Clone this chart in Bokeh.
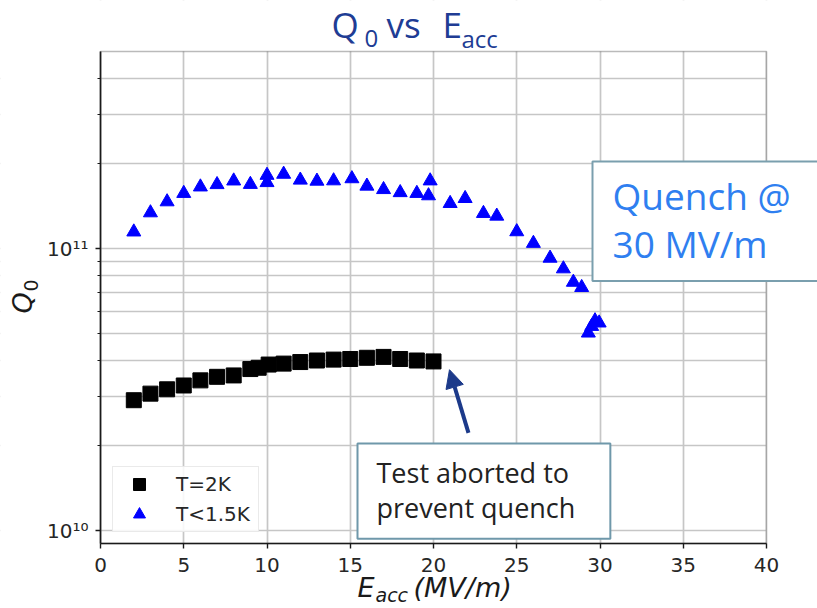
import math
from bokeh.plotting import figure
from bokeh.models import (Label, Legend, LegendItem, FixedTicker, Arrow, NormalHead,
                          BoxAnnotation, Range1d)
from bokeh.embed import file_html
from bokeh.resources import INLINE

# ---- data ----
E_2K = [2, 3, 4, 5, 6, 7, 8, 9, 9.5, 10.1, 11, 12, 13, 14, 15, 16, 17, 18, 19, 20]
Q_2K = [2.90e10, 3.06e10, 3.17e10, 3.27e10, 3.41e10, 3.51e10, 3.55e10, 3.74e10, 3.78e10,
        3.88e10, 3.91e10, 3.96e10, 4.01e10, 4.04e10, 4.06e10, 4.10e10, 4.13e10, 4.06e10,
        4.01e10, 3.98e10]

E_15K = [2, 3, 4, 5, 6, 7, 8, 9, 10, 10, 11, 12, 13, 14, 15.1, 16, 17, 18, 19, 19.7, 19.8,
         21, 21.9, 23, 23.8, 25, 26, 27, 27.8, 28.4, 28.9, 29.3, 29.5, 29.7, 29.95]
Q_15K = [1.146e11, 1.34e11, 1.466e11, 1.57e11, 1.655e11, 1.687e11, 1.738e11, 1.69e11,
         1.82e11, 1.715e11, 1.836e11, 1.75e11, 1.735e11, 1.74e11, 1.77e11, 1.666e11,
         1.62e11, 1.58e11, 1.57e11, 1.54e11, 1.739e11, 1.446e11, 1.506e11, 1.333e11,
         1.304e11, 1.148e11, 1.044e11, 9.25e10, 8.48e10, 7.6e10, 7.28e10, 5.02e10,
         5.3e10, 5.55e10, 5.45e10]

series_labels = ["T=2K", "T<1.5K"]
x_ticks = [0, 5, 10, 15, 20, 25, 30, 35, 40]
y_major = [1e10, 1e11]
y_major_labels = ["10\u00b9\u2070", "10\u00b9\u00b9"]
y_minor = [2e10, 3e10, 4e10, 5e10, 6e10, 7e10, 8e10, 9e10, 2e11, 3e11, 4e11]
x_limits = (0, 40)
y_limits = (9e9, 5e11)
arrow_tip = (20.96, 3.72e10)
arrow_tail = (22.1, 2.22e10)

# ---- layout (pixels) ----
W, H = 817, 608
PX_L, PX_R, PX_T, PX_B = 100, 766, 51, 543

sx = (PX_R - PX_L) / (x_limits[1] - x_limits[0])
xr = Range1d(x_limits[0] - PX_L / sx, x_limits[1] + (W - PX_R) / sx)
ly0, ly1 = math.log10(y_limits[0]), math.log10(y_limits[1])
sy = (PX_B - PX_T) / (ly1 - ly0)
yr = Range1d(10 ** (ly0 - (H - PX_B) / sy), 10 ** (ly1 + PX_T / sy))

p = figure(width=W, height=H, x_range=xr, y_range=yr, y_axis_type="log",
           output_backend="svg", toolbar_location=None,
           min_border_left=0, min_border_right=0, min_border_top=0, min_border_bottom=0)
p.background_fill_color = "white"
p.border_fill_color = "white"
p.outline_line_color = None

# axes, placed on the plot box edges
xa, ya = p.xaxis[0], p.yaxis[0]
xa.fixed_location = y_limits[0]
ya.fixed_location = x_limits[0]
xa.bounds = x_limits
ya.bounds = y_limits
xa.ticker = FixedTicker(ticks=x_ticks)
ya.ticker = FixedTicker(ticks=y_major, minor_ticks=y_minor)
ya.major_label_overrides = {t: s for t, s in zip(y_major, y_major_labels)}
for ax in (xa, ya):
    ax.axis_line_color = "#1a1a1a"
    ax.axis_line_width = 1.6
    ax.major_tick_line_color = "#1a1a1a"
    ax.major_tick_line_width = 1.4
    ax.major_tick_out = 5
    ax.major_tick_in = 0
    ax.minor_tick_line_color = "#1a1a1a"
    ax.minor_tick_line_width = 1.2
    ax.minor_tick_out = 3
    ax.minor_tick_in = 0
    ax.major_label_text_font = "DejaVu Sans"
    ax.major_label_text_font_size = "20px"
    ax.major_label_text_color = "#262626"
xa.minor_tick_line_color = None
xa.major_label_standoff = 9
ya.major_label_standoff = 7

p.xgrid.ticker = FixedTicker(ticks=x_ticks)
p.grid.grid_line_color = "#c6c6c6"
p.grid.grid_line_width = 1.7
p.ygrid.minor_grid_line_color = "#c6c6c6"
p.ygrid.minor_grid_line_width = 1.7

# white masks outside the plot box (hide grid lines there)
for kw in (dict(right=x_limits[0]), dict(left=x_limits[1]),
           dict(bottom=y_limits[1]), dict(top=y_limits[0])):
    p.add_layout(BoxAnnotation(fill_color="white", fill_alpha=1.0, line_color=None,
                               level="underlay", **kw))

# data
r2 = p.scatter(E_2K, Q_2K, marker="square", size=15, fill_color="black", line_color="black")
r15 = p.scatter(E_15K, Q_15K, marker="triangle", size=14, fill_color="#0000ff", line_color="#0000ff")

# plot box spines
p.add_layout(BoxAnnotation(left=x_limits[0], right=x_limits[1], bottom=y_limits[0], top=y_limits[1],
                           fill_color=None, fill_alpha=0, line_color="#1a1a1a", line_width=1.6))

legend = Legend(items=[LegendItem(label=series_labels[0], renderers=[r2]),
                       LegendItem(label=series_labels[1], renderers=[r15])],
                location=(112, H - 532), padding=2, spacing=0, glyph_width=48, glyph_height=30,
                label_height=30, label_width=80, label_standoff=13, margin=0,
                label_text_font="DejaVu Sans", label_text_font_size="20px",
                label_text_color="#262626",
                border_line_color="#d6d6d6", border_line_width=1.5,
                background_fill_color="white", background_fill_alpha=0.85)
p.add_layout(legend)

# arrow
p.add_layout(Arrow(x_start=arrow_tail[0], y_start=arrow_tail[1], x_end=arrow_tip[0], y_end=arrow_tip[1],
                   line_color="#1c3a8a", line_width=4,
                   end=NormalHead(size=18, fill_color="#1c3a8a", line_color="#1c3a8a")))

# annotation boxes
p.add_layout(Label(x=357, y=H - 443, x_units="screen", y_units="screen",
                   text="Test aborted to\nprevent quench", text_font="Open Sans",
                   text_font_size="27px", text_color="#222222", text_line_height=0.95,
                   text_align="left", text_baseline="top",
                   padding=dict(left=19, right=35, top=10, bottom=13),
                   background_fill_color="white", border_line_color="#6f98aa",
                   border_line_width=2))
p.add_layout(Label(x=592, y=H - 161, x_units="screen", y_units="screen",
                   text="Quench @\n30 MV/m", text_font="Open Sans",
                   text_font_size="37px", text_color="#2f7ff0", text_line_height=0.95,
                   text_align="left", text_baseline="top",
                   padding=dict(left=20, right=40, top=8, bottom=12),
                   background_fill_color="white", border_line_color="#7a9fae",
                   border_line_width=2))

SHIFT = 0.39  # measured offset of the rendered baseline, in em

def add_text(txt, x, y, size, font, color, italic=False, rotated=False):
    s = SHIFT * size
    if rotated:
        x, angle = x - s, math.pi / 2
    else:
        y, angle = y - s, 0.0
    p.add_layout(Label(x=x, y=H - y, x_units="screen", y_units="screen", text=txt,
                       text_font=font, text_font_size=f"{size}px", text_color=color,
                       text_font_style="italic" if italic else "normal",
                       text_align="left", text_baseline="alphabetic", angle=angle))

# title (x, baseline y in pixels from top)
title_color = "#203c94"
add_text("Q", 331, 38, 35, "Open Sans", title_color)
add_text("0", 364, 47, 24, "Open Sans", title_color)
add_text("vs", 386, 38, 35, "Open Sans", title_color)
add_text("E", 442, 38, 35, "Open Sans", title_color)
add_text("acc", 461, 47, 24, "Open Sans", title_color)

# x axis label
add_text("E", 357, 598, 27, "DejaVu Sans", "#1a1a1a", italic=True)
add_text("acc", 375, 602, 19, "DejaVu Sans", "#1a1a1a", italic=True)
add_text("(MV/m)", 413, 598, 27, "DejaVu Sans", "#1a1a1a", italic=True)

# y axis label
add_text("Q", 33, 313, 27, "DejaVu Sans", "#1a1a1a", italic=True, rotated=True)
add_text("0", 38, 291, 19, "DejaVu Sans", "#1a1a1a", rotated=True)

open("out.html", "w").write(file_html(p, INLINE))
